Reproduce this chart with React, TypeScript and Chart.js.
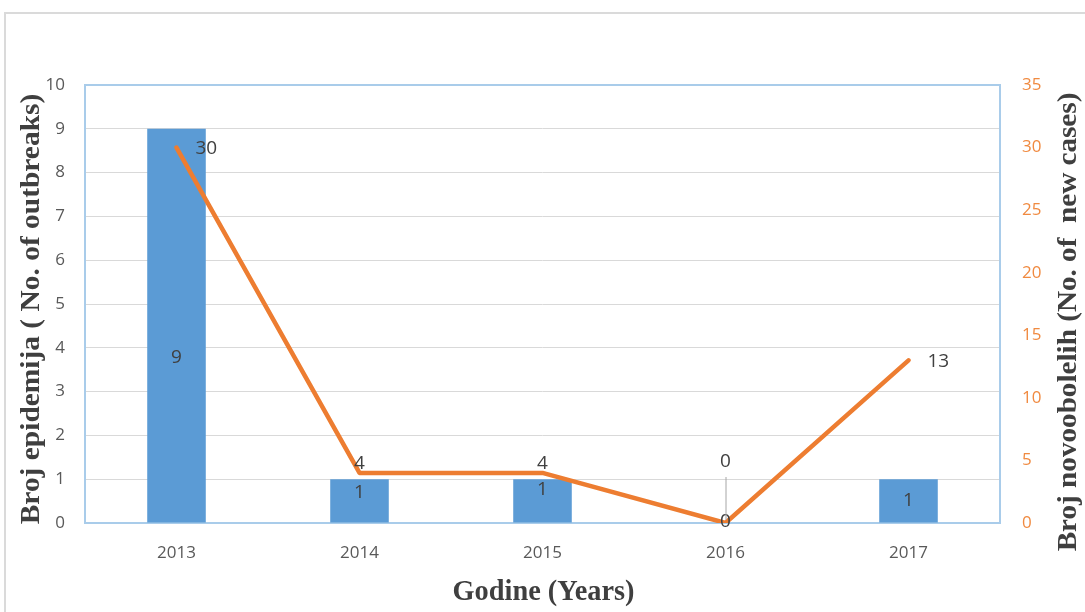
import { useEffect, useRef } from "react";
import { Chart, registerables } from "chart.js";

Chart.register(...registerables);

// Years on the category axis
const years = ["2013", "2014", "2015", "2016", "2017"];
// Number of outbreaks per year (bars, left axis)
const outbreaks = [9, 1, 1, 0, 1];
// Number of new cases per year (line, right axis)
const newCases = [30, 4, 4, 0, 13];
// Tick values for both value axes
const outbreakTicks = [0, 1, 2, 3, 4, 5, 6, 7, 8, 9, 10];
const caseTicks = [0, 5, 10, 15, 20, 25, 30, 35];

const leftTitle = "Broj epidemija ( No. of outbreaks)";
const rightTitle = "Broj novoobolelih (No. of  new cases)";
const bottomTitle = "Godine (Years)";

const BAR_COLOR = "#5B9BD5";
const LINE_COLOR = "#ED7D31";
const RIGHT_TICK_COLOR = "#F08A40";
const TICK_COLOR = "#595959";
const LABEL_COLOR = "#404040";
const TITLE_COLOR = "#3F3F3F";
const TICK_FONT = { family: "'Open Sans', sans-serif", size: 17 };
const LABEL_FONT = "19px 'Open Sans', sans-serif";
const TITLE_FONT = "bold 27px 'Liberation Serif', serif";

// Vertical nudges for the bar value labels, relative to the bar middle
const barLabelShift = [32, -8, -11, -1, 0];
// Where each line value label sits relative to its point
const lineLabelPlace = ["right", "above", "above", "leader", "right"];

const plotFrame = {
  id: "plotFrame",
  beforeDatasetsDraw(chart: any) {
    const { ctx, chartArea: a } = chart;
    ctx.save();
    ctx.strokeStyle = "#A9CCEA";
    ctx.lineWidth = 2;
    ctx.strokeRect(a.left, a.top, a.right - a.left, a.bottom - a.top);
    ctx.restore();
  },
};

const valueLabels = {
  id: "valueLabels",
  afterDatasetsDraw(chart: any) {
    const { ctx } = chart;
    ctx.save();
    ctx.font = LABEL_FONT;
    ctx.fillStyle = LABEL_COLOR;
    ctx.textBaseline = "middle";

    const bars = chart.getDatasetMeta(0).data;
    bars.forEach((el: any, i: number) => {
      const v = chart.data.datasets[0].data[i];
      ctx.textAlign = "center";
      ctx.fillText(String(v), el.x, (el.y + el.base) / 2 + barLabelShift[i]);
    });

    const pts = chart.getDatasetMeta(1).data;
    pts.forEach((el: any, i: number) => {
      const v = chart.data.datasets[1].data[i];
      const place = lineLabelPlace[i];
      if (place === "right") {
        ctx.textAlign = "left";
        ctx.fillText(String(v), el.x + 19, el.y + 1);
      } else if (place === "above") {
        ctx.textAlign = "center";
        ctx.fillText(String(v), el.x, el.y - 9);
      } else {
        ctx.textAlign = "center";
        ctx.fillText(String(v), el.x, el.y - 61);
        ctx.strokeStyle = "#A6A6A6";
        ctx.lineWidth = 1;
        ctx.beginPath();
        ctx.moveTo(el.x + 0.5, el.y - 46);
        ctx.lineTo(el.x + 0.5, el.y - 3);
        ctx.stroke();
      }
    });
    ctx.restore();
  },
};

const axisTitles = {
  id: "axisTitles",
  afterDraw(chart: any) {
    const { ctx, chartArea: a } = chart;
    const midX = (a.left + a.right) / 2;
    const midY = (a.top + a.bottom) / 2;
    ctx.save();
    ctx.font = TITLE_FONT;
    ctx.fillStyle = TITLE_COLOR;
    ctx.textAlign = "center";
    ctx.textBaseline = "middle";

    ctx.save();
    ctx.translate(32, midY + 5);
    ctx.rotate(-Math.PI / 2);
    ctx.scale(1.09, 1);
    ctx.fillText(leftTitle, 0, 0);
    ctx.restore();

    ctx.save();
    ctx.translate(1069, midY + 18);
    ctx.rotate(-Math.PI / 2);
    ctx.scale(1.08, 1);
    ctx.fillText(rightTitle, 0, 0);
    ctx.restore();

    ctx.save();
    ctx.translate(midX + 1, 592);
    ctx.scale(1.05, 1.09);
    ctx.fillText(bottomTitle, 0, 0);
    ctx.restore();

    ctx.restore();
  },
};

export default function App() {
  const canvasRef = useRef<HTMLCanvasElement | null>(null);

  useEffect(() => {
    const canvas = canvasRef.current;
    if (!canvas) return;
    const chart = new Chart(canvas, {
      type: "bar",
      data: {
        labels: years,
        datasets: [
          {
            type: "bar",
            label: "Outbreaks",
            data: outbreaks,
            backgroundColor: BAR_COLOR,
            yAxisID: "y",
            categoryPercentage: 1,
            barPercentage: 0.32,
            order: 1,
          },
          {
            type: "line",
            label: "New cases",
            data: newCases,
            borderColor: LINE_COLOR,
            borderWidth: 4.5,
            pointRadius: 0,
            tension: 0,
            borderJoinStyle: "round",
            borderCapStyle: "round",
            yAxisID: "y1",
            order: 0,
          },
        ],
      },
      options: {
        responsive: false,
        animation: false,
        devicePixelRatio: 1,
        layout: { padding: { top: 85, left: 0, right: 0, bottom: 0 } },
        plugins: {
          legend: { display: false },
          title: { display: false },
          tooltip: { enabled: false },
        },
        scales: {
          x: {
            grid: { display: false, drawTicks: false },
            border: { display: false },
            ticks: { color: TICK_COLOR, font: TICK_FONT, padding: 20 },
            afterFit(scale: any) {
              scale.height = 89;
            },
          },
          y: {
            position: "left",
            min: 0,
            max: 10,
            afterBuildTicks(scale: any) {
              scale.ticks = outbreakTicks.map((value) => ({ value }));
            },
            grid: { color: "#D9D9D9", lineWidth: 1, drawTicks: false },
            border: { display: false },
            ticks: { color: TICK_COLOR, font: TICK_FONT, padding: 20 },
            afterFit(scale: any) {
              scale.width = 85;
            },
          },
          y1: {
            position: "right",
            min: 0,
            max: 35,
            afterBuildTicks(scale: any) {
              scale.ticks = caseTicks.map((value) => ({ value }));
            },
            grid: { display: false, drawTicks: false },
            border: { display: false },
            ticks: { color: RIGHT_TICK_COLOR, font: TICK_FONT, padding: 22 },
            afterFit(scale: any) {
              scale.width = 85;
            },
          },
        },
      },
      plugins: [plotFrame, valueLabels, axisTitles],
    });
    return () => chart.destroy();
  }, []);

  return (
    <div
      style={{
        position: "absolute",
        left: 0,
        top: 0,
        width: 1085,
        height: 612,
        overflow: "hidden",
        background: "#fff",
      }}
    >
      <div
        style={{
          position: "absolute",
          left: 4,
          top: 12,
          right: -10,
          bottom: -10,
          border: "2px solid #DADADA",
        }}
      />
      <canvas
        ref={canvasRef}
        width={1085}
        height={612}
        style={{ position: "absolute", left: 0, top: 0 }}
      />
    </div>
  );
}
